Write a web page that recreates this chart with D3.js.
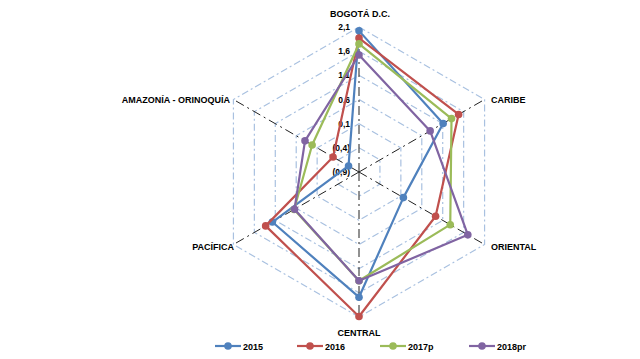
<!DOCTYPE html>
<html><head><meta charset="utf-8">
<script src="https://cdn.jsdelivr.net/npm/d3@7"></script>
<style>
body{margin:0;background:#fff;}
text{font-family:"Liberation Sans",Arial,sans-serif;font-weight:bold;fill:#000;}
</style></head>
<body><svg id="c" width="640" height="359"></svg>
<script>
const categories = ["BOGOTÁ D.C.", "CARIBE", "ORIENTAL", "CENTRAL", "PACÍFICA", "AMAZONÍA - ORINOQUÍA"];
const seriesNames = ["2015", "2016", "2017p", "2018pr"];
const values2015   = [2.02, 1.11, 0.16, 1.69, 1.17, -0.65];
const values2016   = [1.87, 1.48, 0.93, 2.09, 1.33, -0.28];
const values2017p  = [1.75, 1.31, 1.28, 1.35, 0.65, 0.22];
const values2018pr = [1.52, 0.80, 1.70, 1.35, 0.64, 0.39];
const tickValues = [-0.9, -0.4, 0.1, 0.6, 1.1, 1.6, 2.1];
const tickLabels = ["(0,9)", "(0,4)", "0,1", "0,6", "1,1", "1,6", "2,1"];
const colors = ["#4F81BD", "#C0504D", "#9BBB59", "#8064A2"];

const allSeries = [values2015, values2016, values2017p, values2018pr];
const svg = d3.select("#c");
const cx = 359, cy = 172, R = 145;
const r = d3.scaleLinear().domain([-0.9, 2.1]).range([0, R]);
const ang = d3.scalePoint().domain(categories).range([0, 300]); // degrees clockwise from top
const pt = (cat, v) => {
  const a = ang(cat) * Math.PI / 180;
  return [cx + r(v) * Math.sin(a), cy - r(v) * Math.cos(a)];
};

// rings
tickValues.slice(1).forEach(t => {
  svg.append("path")
    .attr("d", d3.line()(categories.map(c => pt(c, t))) + "Z")
    .attr("fill", "none").attr("stroke", "#A9C1E0").attr("stroke-width", 1.2)
    .attr("stroke-dasharray", "7,3,2,3");
});
// axes
categories.forEach(c => {
  const p = pt(c, 2.1);
  svg.append("line").attr("x1", cx).attr("y1", cy).attr("x2", p[0]).attr("y2", p[1])
    .attr("stroke", "#222").attr("stroke-width", 1)
    .attr("stroke-dasharray", "9,4,2,4");
});
// tick labels
tickValues.forEach((t, i) => {
  const p = pt(categories[0], t);
  svg.append("text").attr("x", p[0] - 9).attr("y", p[1] + 3)
    .attr("text-anchor", "end").attr("font-size", 8.5).text(tickLabels[i]);
});
// series
allSeries.forEach((vals, si) => {
  const pts = categories.map((c, i) => pt(c, vals[i]));
  svg.append("path").attr("d", d3.line()(pts) + "Z")
    .attr("fill", "none").attr("stroke", colors[si]).attr("stroke-width", 2.2)
    .attr("stroke-linejoin", "round");
  pts.forEach(p => svg.append("circle").attr("cx", p[0]).attr("cy", p[1]).attr("r", 3.8)
    .attr("fill", colors[si]));
});
// category labels
const labPos = [
  {x: 360, y: 17, a: "middle"},
  {x: 491, y: 103, a: "start"},
  {x: 491, y: 250, a: "start"},
  {x: 359, y: 336, a: "middle"},
  {x: 234, y: 250, a: "end"},
  {x: 230, y: 103, a: "end"}
];
categories.forEach((c, i) => {
  svg.append("text").attr("x", labPos[i].x).attr("y", labPos[i].y)
    .attr("text-anchor", labPos[i].a).attr("font-size", 9).text(c);
});
// legend
const legX = [215, 297, 380, 469];
seriesNames.forEach((n, i) => {
  const g = svg.append("g");
  g.append("line").attr("x1", legX[i]).attr("x2", legX[i] + 26).attr("y1", 346).attr("y2", 346)
    .attr("stroke", colors[i]).attr("stroke-width", 2.2);
  g.append("circle").attr("cx", legX[i] + 13).attr("cy", 346).attr("r", 3.8).attr("fill", colors[i]);
  g.append("text").attr("x", legX[i] + 28).attr("y", 349.5).attr("font-size", 9).text(n);
});
</script></body></html>
